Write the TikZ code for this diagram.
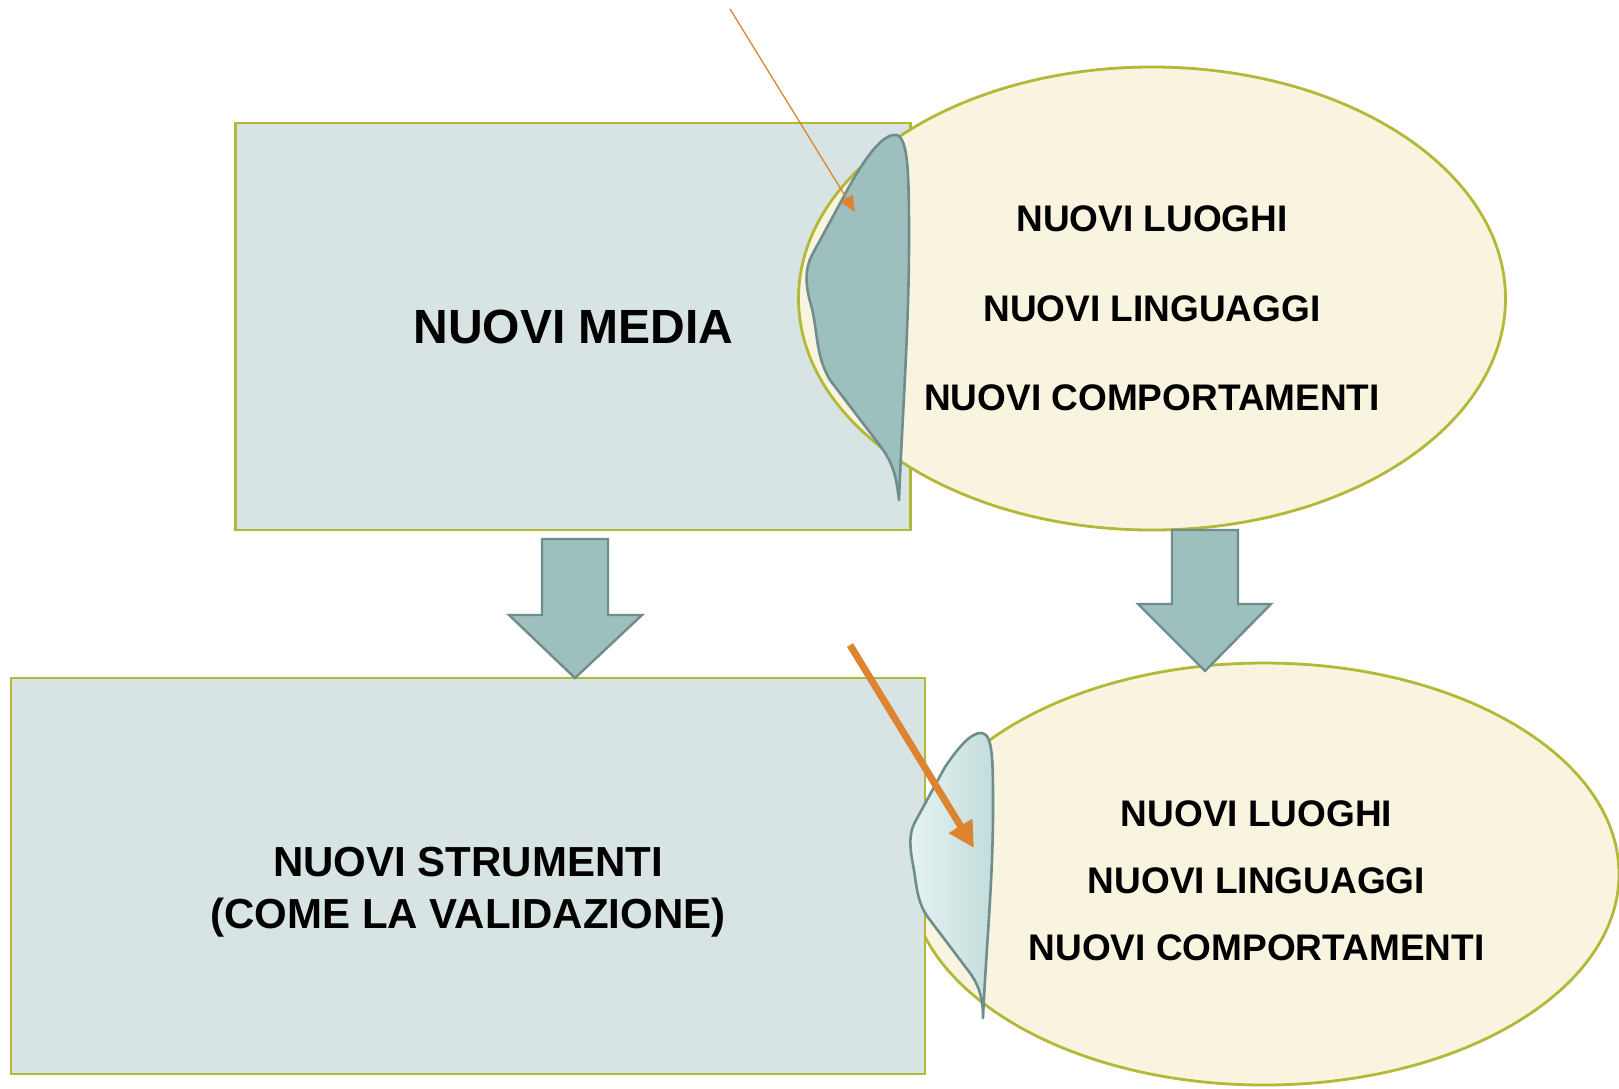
\documentclass[tikz,border=0pt]{standalone}
\usepackage{fontspec}
\setmainfont{Liberation Sans}
\usetikzlibrary{shapes.geometric,arrows.meta}
\definecolor{boxfill}{HTML}{D7E4E3}
\definecolor{olive}{HTML}{B3B836}
\definecolor{cream}{HTML}{F8F4E0}
\definecolor{teal1}{HTML}{9DBFBE}
\definecolor{tealline}{HTML}{6F8D8C}
\definecolor{orng}{HTML}{DD8430}
\definecolor{tealL}{HTML}{E8F2F2}
\definecolor{tealM}{HTML}{C2DDDC}
\tikzset{
  box/.style={draw=olive, fill=boxfill, line width=2.8pt, inner sep=0pt},
  oval/.style={ellipse, draw=olive, fill=cream, line width=2.8pt, inner sep=0pt},
  drop/.style={draw=tealline, line width=2.6pt, line join=round},
  blockarrow/.style={draw=tealline, fill=teal1, line width=2.4pt, line join=miter},
  txt/.style={font=\bfseries\fontsize{37}{44}\selectfont, anchor=base, inner sep=0pt},
  bigtxt/.style={font=\bfseries\fontsize{42}{50}\selectfont, anchor=base, inner sep=0pt},
  hugetxt/.style={font=\bfseries\fontsize{48}{56}\selectfont, anchor=base, inner sep=0pt},
  pointer/.style={draw=orng, line cap=butt}
}
\begin{document}
\begin{tikzpicture}[x=1pt,y=-1pt]
\path[use as bounding box, fill=white] (0,0) rectangle (1619,1088);

% top group
\node[box, minimum width=675pt, minimum height=407pt] (media) at (573,326.5) {};
\node[oval, minimum width=707pt, minimum height=463pt] (ovtop) at (1152,298.5) {};
\node[hugetxt] (tmedia) at (573.5,343) {NUOVI MEDIA};
\node[txt] (t1) at (1152,231) {NUOVI LUOGHI};
\node[txt] (t2) at (1152,321) {NUOVI LINGUAGGI};
\node[txt] (t3) at (1152,410) {NUOVI COMPORTAMENTI};

\path[drop, fill=teal1] (897,135) .. controls (885,133) and (870,150) .. (850,185)
  -- (812,255) .. controls (805,268) and (805,285) .. (811,305)
  .. controls (818,330) and (815,355) .. (830,380)
  -- (878,443) .. controls (893,462) and (896,475) .. (899,500)
  .. controls (902,420) and (909,330) .. (909,240)
  .. controls (909,170) and (908,140) .. (897,135) -- cycle;

% bottom group
\node[oval, minimum width=710pt, minimum height=422pt] (ovbot) at (1264,874) {};
\node[box, minimum width=914pt, minimum height=396pt] (tools) at (468,876) {};
\node[bigtxt] (s1) at (468,876) {NUOVI STRUMENTI};
\node[bigtxt] (s2) at (468,928) {(COME LA VALIDAZIONE)};
\node[txt] (b1) at (1256.5,826) {NUOVI LUOGHI};
\node[txt] (b2) at (1256.5,893) {NUOVI LINGUAGGI};
\node[txt] (b3) at (1256.5,960) {NUOVI COMPORTAMENTI};

\path[drop, left color=tealL, middle color=tealM, right color=tealM]
  (982,733) .. controls (972,732) and (960,745) .. (945,767)
  -- (915,822) .. controls (908,835) and (910,850) .. (914,870)
  .. controls (917,890) and (918,905) .. (930,920)
  -- (970,973) .. controls (980,987) and (983,1000) .. (983,1018)
  .. controls (986,950) and (993,880) .. (993,810)
  .. controls (993,760) and (993,735) .. (982,733) -- cycle;

% block arrows
\path[blockarrow] (542,539) -- (608,539) -- (608,615) -- (642,615) -- (575,678)
  -- (509,615) -- (542,615) -- cycle;
\path[blockarrow] (1172,530) -- (1238,530) -- (1238,604) -- (1271,604) -- (1205,671)
  -- (1138,604) -- (1172,604) -- cycle;

% orange pointers
\coordinate (p1s) at (730,9);
\coordinate (p1e) at (855,212);
\coordinate (p2s) at (850,645);
\coordinate (p2e) at (974,848);
\draw[pointer, line width=1.3pt, -{Triangle[length=16pt,width=14pt]}] (p1s) -- (p1e);
\draw[pointer, line width=7pt, -{Triangle[length=26pt,width=26pt]}] (p2s) -- (p2e);
\end{tikzpicture}
\end{document}
